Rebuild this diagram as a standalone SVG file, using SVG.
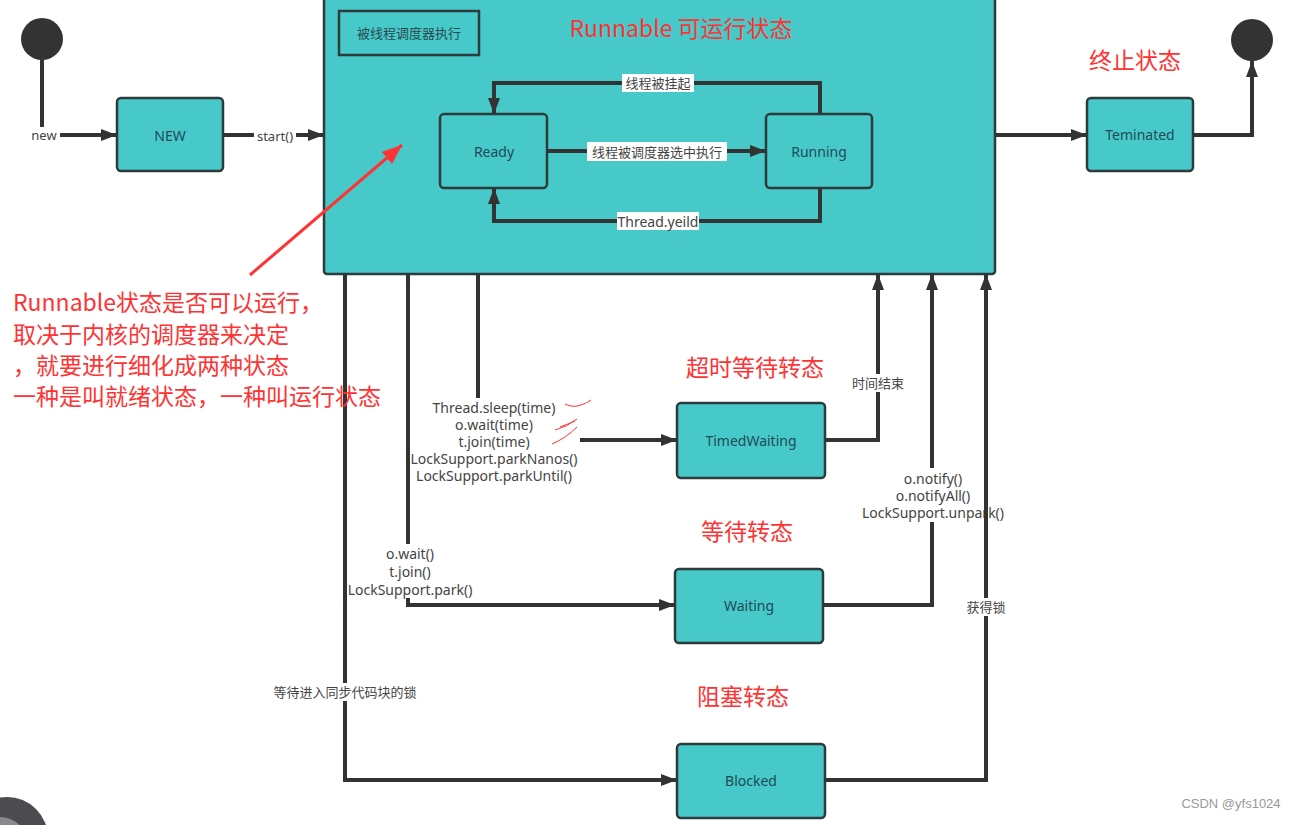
<svg xmlns="http://www.w3.org/2000/svg" width="1294" height="825" viewBox="0 0 1294 825">
<defs>
<marker id="ah" viewBox="0 0 16 12" refX="16" refY="6" markerWidth="16" markerHeight="12" markerUnits="userSpaceOnUse" orient="auto"><path d="M0,0 L16,6 L0,12 z" fill="#333"/></marker>
<marker id="rah" viewBox="0 0 20 16" refX="20" refY="8" markerWidth="20" markerHeight="16" markerUnits="userSpaceOnUse" orient="auto"><path d="M0,0 L20,8 L0,16 z" fill="#f33"/></marker>
<style>
.box{fill:#47c9c9;stroke:#2e3b3d;stroke-width:2.5}
.bt{font-family:"Noto Sans","Noto Sans CJK SC",sans-serif;font-size:14px;fill:#1f4b58;text-anchor:middle;dominant-baseline:central}
.ln{fill:none;stroke:#333;stroke-width:4;stroke-linejoin:miter}
.lb{font-family:"Noto Sans","Noto Sans CJK SC",sans-serif;font-size:14px;fill:#444;text-anchor:middle;dominant-baseline:central}
.bg{fill:#fff}
.red{font-family:"Noto Sans CJK SC","Noto Sans",sans-serif;fill:#f33;text-anchor:middle;dominant-baseline:central}
</style>
</defs>
<rect width="1294" height="825" fill="#fff"/>

<g id="start-node"><circle cx="42" cy="39" r="21" fill="#333"/></g>
<g id="end-node"><circle cx="1252" cy="40" r="21" fill="#333"/></g>

<g id="runnable">
<rect x="324" y="-6" width="671" height="280" rx="3" class="box"/>
<rect x="339" y="11" width="140" height="44" fill="none" stroke="#2e3b3d" stroke-width="2.5"/>
<text x="409" y="33" class="bt" style="font-size:13px;fill:#2a4a50">被线程调度器执行</text>
<text x="681" y="27" class="red" style="font-size:23px">Runnable 可运行状态</text>
</g>

<g id="new"><rect x="117" y="98" width="106" height="73" rx="4" class="box"/><text x="170" y="135" class="bt">NEW</text></g>
<g id="ready"><rect x="440" y="114" width="107" height="74" rx="4" class="box"/><text x="494" y="151" class="bt">Ready</text></g>
<g id="running"><rect x="766" y="114" width="106" height="74" rx="4" class="box"/><text x="819" y="151" class="bt">Running</text></g>
<g id="terminated"><rect x="1087" y="98" width="106" height="73" rx="4" class="box"/><text x="1140" y="134" class="bt">Teminated</text></g>
<g id="timedwaiting"><rect x="677" y="403" width="148" height="75" rx="4" class="box"/><text x="751" y="440" class="bt">TimedWaiting</text></g>
<g id="waiting"><rect x="675" y="569" width="148" height="74" rx="4" class="box"/><text x="749" y="605" class="bt">Waiting</text></g>
<g id="blocked"><rect x="677" y="744" width="148" height="74" rx="4" class="box"/><text x="751" y="780" class="bt">Blocked</text></g>

<g id="connectors">
<path class="ln" d="M42,60 V135 H117" marker-end="url(#ah)"/>
<path class="ln" d="M223,135 H324" marker-end="url(#ah)"/>
<path class="ln" d="M820,114 V83 H494 V114" marker-end="url(#ah)"/>
<path class="ln" d="M547,151 H766" marker-end="url(#ah)"/>
<path class="ln" d="M820,188 V221 H494 V188" marker-end="url(#ah)"/>
<path class="ln" d="M995,135 H1087" marker-end="url(#ah)"/>
<path class="ln" d="M1193,135 H1252 V61" marker-end="url(#ah)"/>
<path class="ln" d="M345,274 V780 H677" marker-end="url(#ah)"/>
<path class="ln" d="M408,274 V605 H675" marker-end="url(#ah)"/>
<path class="ln" d="M478,274 V398"/>
<path class="ln" d="M580,440 H677" marker-end="url(#ah)"/>
<path class="ln" d="M825,440 H878 V274" marker-end="url(#ah)"/>
<path class="ln" d="M823,605 H932 V274" marker-end="url(#ah)"/>

<rect x="29" y="127" width="31" height="17" class="bg"/>
<text x="44" y="135" class="lb" style="font-size:13px">new</text>
<rect x="254" y="127" width="42" height="17" class="bg"/>
<text x="275" y="136" class="lb" style="font-size:13px">start()</text>
<rect x="622" y="74" width="72" height="18" class="bg"/>
<text x="658" y="83" class="lb" style="font-size:13px">线程被挂起</text>
<rect x="587" y="142" width="140" height="19" class="bg"/>
<text x="657" y="152" class="lb" style="font-size:13px">线程被调度器选中执行</text>
<rect x="617" y="212" width="82" height="18" class="bg"/>
<text x="658" y="221" class="lb">Thread.yeild</text>

<rect x="420" y="398" width="150" height="86" class="bg"/>
<text class="lb"><tspan x="494" y="407">Thread.sleep(time)</tspan><tspan x="494" y="424">o.wait(time)</tspan><tspan x="494" y="441">t.join(time)</tspan><tspan x="494" y="458">LockSupport.parkNanos()</tspan><tspan x="494" y="475">LockSupport.parkUntil()</tspan></text>

<rect x="350" y="544" width="124" height="54" class="bg"/>
<text class="lb"><tspan x="410" y="553">o.wait()</tspan><tspan x="410" y="571">t.join()</tspan><tspan x="410" y="589">LockSupport.park()</tspan></text>

<rect x="848" y="374" width="60" height="18" class="bg"/>
<text x="878" y="383" class="lb" style="font-size:13px">时间结束</text>

<rect x="880" y="468" width="98" height="54" class="bg"/>
<text class="lb"><tspan x="933" y="478">o.notify()</tspan><tspan x="933" y="495">o.notifyAll()</tspan><tspan x="933" y="512">LockSupport.unpark()</tspan></text>

<path class="ln" d="M825,780 H986 V274" marker-end="url(#ah)"/>
<rect x="964" y="598" width="44" height="18" class="bg"/>
<text x="986" y="607" class="lb" style="font-size:13px">获得锁</text>

<rect x="266" y="683" width="158" height="18" class="bg"/>
<text x="345" y="692" class="lb" style="font-size:13px">等待进入同步代码块的锁</text>
</g>

<g id="annotations">
<text x="755" y="366" class="red" style="font-size:23px">超时等待转态</text>
<text x="747" y="530" class="red" style="font-size:23px">等待转态</text>
<text x="743" y="695" class="red" style="font-size:23px">阻塞转态</text>
<text x="1135" y="59" class="red" style="font-size:23px">终止状态</text>
<line x1="250" y1="275" x2="402" y2="145" stroke="#f33" stroke-width="3" marker-end="url(#rah)"/>
<text font-family="'Noto Sans CJK SC','Noto Sans',sans-serif" font-size="23" fill="#f33">
<tspan x="13" y="311">Runnable状态是否可以运行，</tspan>
<tspan x="13" y="343">取决于内核的调度器来决定</tspan>
<tspan x="13" y="374">，就要进行细化成两种状态</tspan>
<tspan x="13" y="405">一种是叫就绪状态，一种叫运行状态</tspan>
</text>
<path d="M565,404 q8,4 16,1 q6,-2 10,-5" fill="none" stroke="#f33" stroke-width="1"/>
<path d="M555,430 q12,-3 22,-11 M560,427 q8,-3 15,-6" fill="none" stroke="#f33" stroke-width="1"/>
<path d="M552,444 q14,-6 25,-17" fill="none" stroke="#f33" stroke-width="1"/>
</g>

<g id="extras">
<circle cx="7" cy="838" r="41" fill="#4b4b50"/>
<circle cx="0" cy="845" r="28" fill="#8a8a8e"/>
<text x="1231" y="808" font-family="'Liberation Sans',sans-serif" font-size="13" fill="#999" text-anchor="middle">CSDN @yfs1024</text>
</g>
</svg>
